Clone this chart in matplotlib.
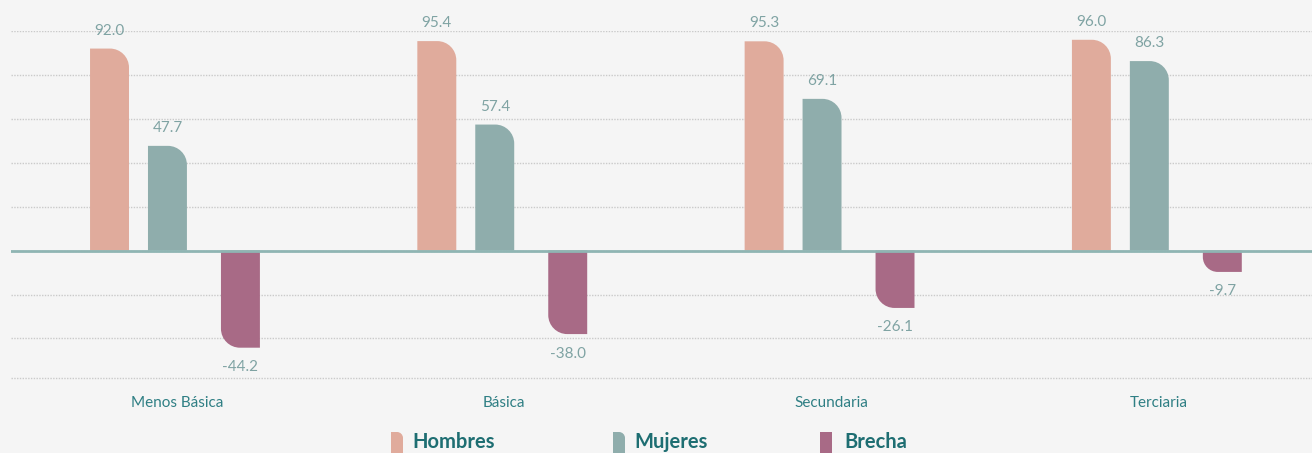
import matplotlib.pyplot as plt
from matplotlib.path import Path
from matplotlib.patches import PathPatch
import numpy as np

categories = ["Menos Básica", "Básica", "Secundaria", "Terciaria"]
hombres = [92.0, 95.4, 95.3, 96.0]
mujeres = [47.7, 57.4, 69.1, 86.3]
brecha = [-44.2, -38.0, -26.1, -9.7]
series_names = ["Hombres", "Mujeres", "Brecha"]

c_h = "#E0AB9C"
c_m = "#8FADAC"
c_b = "#A86A86"
bg = "#F5F5F5"
val_color = "#7FA3A3"
cat_color = "#2F7F84"
leg_color = "#1E6E72"

plt.rcParams['font.family'] = ['Lato', 'DejaVu Sans']

W, H = 1312, 453
fig = plt.figure(figsize=(W / 100, H / 100), dpi=100, facecolor=bg)
# axes: left edge at px 11, right at 1312, y=100 at px 31, y=-58 at px 378
ax = fig.add_axes([11 / W, (H - 378) / H, 1 - 11 / W, (378 - 31) / H])
ax.set_facecolor(bg)
ax.set_xlim(-0.507, 3.468)
ax.set_ylim(-58, 100)
for s in ax.spines.values():
    s.set_visible(False)

K = 0.5523


def bar_path(x0, x1, y0, y1, rx, ry, corner):
    # corner: 'tr' rounds top-right, 'bl' rounds bottom-left
    if corner == 'tr':
        verts = [(x0, y0), (x0, y1), (x1 - rx, y1),
                 (x1 - rx + K * rx, y1), (x1, y1 - ry + K * ry), (x1, y1 - ry),
                 (x1, y0), (x0, y0)]
    else:
        verts = [(x1, y1), (x1, y0), (x0 + rx, y0),
                 (x0 + rx - K * rx, y0), (x0, y0 + ry - K * ry), (x0, y0 + ry),
                 (x0, y1), (x1, y1)]
    codes = [Path.MOVETO, Path.LINETO, Path.LINETO,
             Path.CURVE4, Path.CURVE4, Path.CURVE4,
             Path.LINETO, Path.CLOSEPOLY]
    return Path(verts, codes)


# pixel scale of the data
p0 = ax.transData.transform((0, 0))
p1 = ax.transData.transform((1, 1))
px_x = p1[0] - p0[0]
px_y = p1[1] - p0[1]

x = np.arange(len(categories))
width = 0.119
offsets = [-0.206, -0.029, 0.194]
r_px = 19

for vals, off, col in zip([hombres, mujeres, brecha], offsets, [c_h, c_m, c_b]):
    for xi, v in zip(x, vals):
        x0 = xi + off - width / 2
        x1 = xi + off + width / 2
        r = min(r_px, abs(v) * px_y * 0.7)
        rx, ry = r / px_x, r / px_y
        if v >= 0:
            path = bar_path(x0, x1, 0, v, rx, ry, 'tr')
            ax.annotate(f"{v:.1f}", (xi + off, v), xytext=(0, 13), textcoords='offset points',
                        ha='center', va='center', fontsize=11, color=val_color)
        else:
            path = bar_path(x0, x1, v, 0, rx, ry, 'bl')
            ax.annotate(f"{v:.1f}", (xi + off, v), xytext=(0, -14), textcoords='offset points',
                        ha='center', va='center', fontsize=11, color=val_color)
        ax.add_patch(PathPatch(path, facecolor=col, edgecolor='none', zorder=3))

# grid
ax.set_yticks(np.arange(-40, 101, 20))
ax.yaxis.grid(True, linestyle=(0, (1, 1)), color="#CACACA", linewidth=1)
ax.axhline(-58, linestyle=(0, (1, 1)), color="#CACACA", linewidth=1, clip_on=False)
ax.axhline(0, color="#8FB5B3", linewidth=2, zorder=4)
ax.set_axisbelow(True)
ax.tick_params(axis='y', length=0, labelleft=False)

ax.set_xticks(x)
ax.set_xticklabels(categories, fontsize=11, color=cat_color)
ax.tick_params(axis='x', length=0, pad=13)

# legend at the bottom
leg_icons = [391, 613, 820]
leg_texts = [412, 634, 844]
leg_cols = [c_h, c_m, c_b]
iw = 12 / W
for name, ix, tx, col, corner in zip(series_names, leg_icons, leg_texts, leg_cols, [True, True, False]):
    x0 = ix / W
    y0 = (H - 460) / H
    y1 = (H - 432) / H
    if corner:
        path = bar_path(x0, x0 + iw, y0, y1, 6 / W, 6 / H, 'tr')
    else:
        path = bar_path(x0, x0 + iw, y0, y1, 0.00001, 0.00001, 'tr')
    fig.add_artist(PathPatch(path, facecolor=col, edgecolor='none', transform=fig.transFigure))
    fig.text(tx / W, (H - 448) / H, name, fontsize=14.5, fontweight='bold', color=leg_color,
             ha='left', va='baseline')

fig.savefig("out.png", dpi=100, facecolor=bg)
